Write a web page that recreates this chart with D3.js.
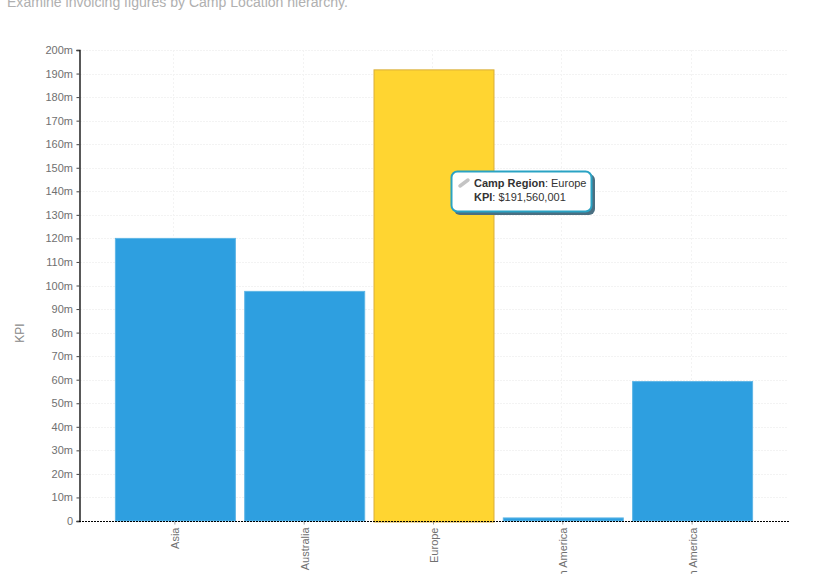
<!DOCTYPE html>
<html><head><meta charset="utf-8">
<script src="https://cdn.jsdelivr.net/npm/d3@7/dist/d3.min.js"></script>
<style>
html,body{margin:0;padding:0;background:#fff;overflow:hidden}
svg{display:block}
text{font-family:"Liberation Sans",Arial,sans-serif}
</style></head><body><svg id="c" width="830" height="574"></svg>
<script>
const categories=["Asia","Australia","Europe","North America","South America"];
const values=[120000000,97500000,191560001,1300000,59200000];
const highlighted="Europe";
const yTicks=d3.range(0,210000000,10000000);
const titleText="Examine invoicing figures by Camp Location hierarchy.";
const yLabel="KPI";
const tipLines=[["Camp Region",": Europe"],["KPI",": $191,560,001"]];

const svg=d3.select("#c");
const x=d3.scaleBand().domain(categories).range([110.75,757.25]).paddingInner(.072).paddingOuter(.036);
const y=d3.scaleLinear().domain([0,200000000]).range([521,50]);
const fmt=d=>d===0?"0":(d/1e6)+"m";

svg.append("text").attr("x",7).attr("y",7).attr("font-size",14.05).attr("fill","#b0b0b0").text(titleText);

// grid
const g=svg.append("g");
g.selectAll(".h").data(yTicks.slice(1)).join("line").attr("x1",80).attr("x2",788)
 .attr("y1",d=>Math.round(y(d))+.5).attr("y2",d=>Math.round(y(d))+.5)
 .attr("stroke","#f3f3f3").attr("stroke-dasharray","2,1");
g.selectAll(".v").data(categories).join("line")
 .attr("x1",d=>Math.round(x(d)+x.bandwidth()/2)-1.5).attr("x2",d=>Math.round(x(d)+x.bandwidth()/2)-1.5)
 .attr("y1",50).attr("y2",521).attr("stroke","#f3f3f3").attr("stroke-dasharray","2,2");

// bars
svg.selectAll(".bar").data(categories).join("rect").attr("class","bar")
 .attr("x",d=>x(d)).attr("width",x.bandwidth())
 .attr("y",(d,i)=>y(values[i])).attr("height",(d,i)=>y(0)-y(values[i])+(d===highlighted?1:0))
 .attr("fill",d=>d===highlighted?"#ffd531":"#2e9fe0")
 .attr("stroke",d=>d===highlighted?"#d9ae3a":"#5fb6e6").attr("stroke-width",1);

// axes
const ya=d3.axisLeft(y).tickValues(yTicks).tickFormat(fmt).tickSize(3).tickPadding(3.5);
const yg=svg.append("g").attr("transform","translate(79.5,0)").call(ya);
yg.select(".domain").attr("stroke","#000").attr("stroke-width",1.3);
yg.selectAll(".tick line").attr("stroke","#444");
yg.selectAll("text").attr("font-size",11).attr("fill","#707070").style("font-family","'Liberation Sans',Arial,sans-serif");

const xa=d3.axisBottom(x).tickSize(3).tickSizeOuter(0).tickPadding(3);
const xg=svg.append("g").attr("transform","translate(-0.5,521.5)").call(xa);
xg.select(".domain").remove();
xg.selectAll(".tick line").attr("stroke","#999");
xg.selectAll("text").attr("font-size",11).attr("fill","#707070").style("font-family","'Liberation Sans',Arial,sans-serif")
 .attr("text-anchor","end").attr("dy",0).attr("y",0)
 .attr("transform","translate(4.5,6) rotate(-90)");
svg.append("line").attr("x1",79).attr("x2",790).attr("y1",521.5).attr("y2",521.5)
 .attr("stroke","#000").attr("stroke-width",1.1).attr("stroke-dasharray","2,1");

svg.append("text").attr("transform","translate(24,333) rotate(-90)").attr("text-anchor","middle")
 .attr("font-size",12).attr("fill","#888").text(yLabel);

// tooltip
const t=svg.append("g").attr("transform","translate(451,171)");
t.append("rect").attr("x",3).attr("y",3).attr("width",141).attr("height",41).attr("rx",6).attr("fill","#4a6f82");
t.append("rect").attr("x",.5).attr("y",.5).attr("width",140).attr("height",40).attr("rx",6).attr("fill","#fff").attr("stroke","#2aa3c4").attr("stroke-width",2);
t.append("line").attr("x1",9).attr("y1",15).attr("x2",17).attr("y2",9).attr("stroke","#c4c4c4").attr("stroke-width",3.5).attr("stroke-linecap","round");
tipLines.forEach((l,i)=>{
 const tx=t.append("text").attr("x",23).attr("y",16+i*13.5).attr("font-size",11).attr("fill","#333");
 tx.append("tspan").attr("font-weight","bold").text(l[0]);
 tx.append("tspan").text(l[1]);
});
</script></body></html>
